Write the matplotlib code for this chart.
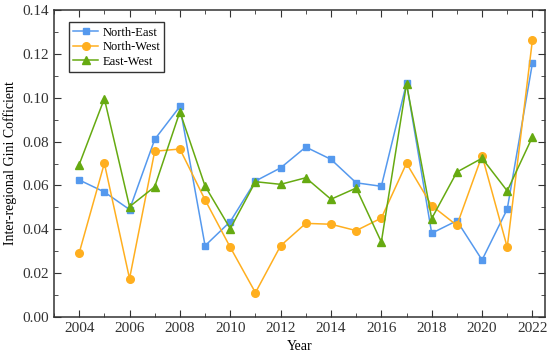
import numpy as np
import matplotlib.pyplot as plt
from matplotlib.ticker import MultipleLocator, FormatStrFormatter

plt.rcParams['font.family'] = ['Liberation Serif', 'DejaVu Serif']

years = list(range(2004, 2023))
north_east = [0.0625, 0.057, 0.049, 0.081, 0.096, 0.0325, 0.0435, 0.062, 0.068, 0.0775,
              0.0719, 0.0612, 0.0596, 0.1066, 0.0382, 0.0439, 0.026, 0.0492, 0.1157]
north_west = [0.0292, 0.0701, 0.0175, 0.0756, 0.0766, 0.0534, 0.0318, 0.0111, 0.0325, 0.0427,
              0.0423, 0.0394, 0.0451, 0.0701, 0.0508, 0.0418, 0.0736, 0.0318, 0.1263]
east_west = [0.0695, 0.0996, 0.0503, 0.0594, 0.0936, 0.0597, 0.0403, 0.0617, 0.0605, 0.0635,
             0.0537, 0.0588, 0.0342, 0.1063, 0.0449, 0.0661, 0.0724, 0.0575, 0.0821]

fig = plt.figure(figsize=(5.5, 3.61), dpi=100)
ax = fig.add_axes([54/550, 1-317/361, 491/550, 307/361])

ax.plot(years, north_east, '-s', color='#5599EE', ms=5, lw=1.1, label='North-East')
ax.plot(years, north_west, '-o', color='#FFAF1F', ms=5.5, lw=1.1, label='North-West')
ax.plot(years, east_west, '-^', color='#66AA11', ms=6, lw=1.1, label='East-West')

ax.set_xlim(2003.0, 2022.5)
ax.set_ylim(0, 0.14)
ax.xaxis.set_major_locator(MultipleLocator(2))
ax.xaxis.set_minor_locator(MultipleLocator(1))
ax.yaxis.set_major_locator(MultipleLocator(0.02))
ax.yaxis.set_minor_locator(MultipleLocator(0.01))
ax.yaxis.set_major_formatter(FormatStrFormatter('%.2f'))
ax.tick_params(which='both', direction='in', top=True, right=True, labelsize=11, colors='#333333')
ax.tick_params(which='major', length=5)
ax.tick_params(which='minor', length=3)
for lab in ax.get_xticklabels() + ax.get_yticklabels():
    lab.set_color('#333333')
for s in ax.spines.values():
    s.set_linewidth(1.1)
    s.set_color('#333333')

ax.set_xlabel('Year', fontsize=10)
ax.set_ylabel('Inter-regional Gini Cofficient', fontsize=10)

ax.legend(loc='upper left', fontsize=9, frameon=True, fancybox=False, edgecolor='#333333',
          framealpha=1, handlelength=2.0, borderpad=0.35, labelspacing=0.2, handletextpad=0.3,
          bbox_to_anchor=(0.018, 0.98))

fig.savefig('out.png', dpi=100)
